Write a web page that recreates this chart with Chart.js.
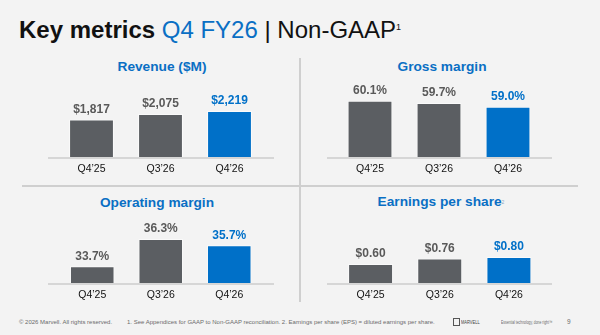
<!DOCTYPE html>
<html>
<head>
<meta charset="utf-8">
<script src="https://cdn.jsdelivr.net/npm/chart.js@4.4.0/dist/chart.umd.min.js"></script>
<style>
  body { margin: 0; background: #f3f3f3; font-family: "Liberation Sans", Arial, sans-serif; }
  #slide { position: relative; width: 600px; height: 335px; overflow: hidden; background: #f3f3f3; }
  .abs { position: absolute; white-space: nowrap; }
  canvas { position: absolute; }
  .ptitle { position: absolute; width: 240px; text-align: center; font-weight: bold; font-size: 13.7px; line-height: 16px; color: #0a6fc4; }
  .foot { position: absolute; font-size: 6px; line-height: 8px; color: #6b6b6b; white-space: nowrap; }
</style>
</head>
<body>
<div id="slide">
  <div class="abs" style="left:19px; top:18px; font-size:24px; line-height:24px; color:#111;">
    <b>Key metrics</b> <span style="color:#0a6fc4">Q4 FY26</span> | Non-GAAP<sup style="font-size:9px; vertical-align:top; position:relative; top:-3px;">1</sup>
  </div>

  <div style="position:absolute; left:299px; top:58px; width:2px; height:244px; background:#cfcfcf;"></div>
  <div style="position:absolute; left:22px; top:185px; width:556px; height:2px; background:#cfcfcf;"></div>

  <div class="ptitle" style="left:42px; top:59px;">Revenue ($M)</div>
  <div class="ptitle" style="left:322px; top:59px;">Gross margin</div>
  <div class="ptitle" style="left:37px; top:195px;">Operating margin</div>
  <div class="ptitle" style="left:321px; top:194px;">Earnings per share<sup style="font-size:5px; font-weight:normal; color:#8aa8c8; vertical-align:top;">2</sup></div>

  <canvas id="c1" width="226" height="88" style="left:48px; top:90px;"></canvas>
  <canvas id="c2" width="225" height="98" style="left:327px; top:80px;"></canvas>
  <canvas id="c3" width="226" height="89" style="left:48px; top:215px;"></canvas>
  <canvas id="c4" width="225" height="89" style="left:327px; top:215px;"></canvas>

  <div class="foot" style="left:19px; top:318px;">© 2026 Marvell. All rights reserved.</div>
  <div class="foot" style="left:127px; top:318px;">1. See Appendices for GAAP to Non-GAAP reconciliation. 2. Earnings per share (EPS) = diluted earnings per share.</div>
  <div style="position:absolute; left:453px; top:318px; width:5px; height:6px; border:1px solid #555;"></div>
  <div class="foot" style="left:461px; top:318px; font-size:5px; color:#444; transform:scaleX(0.8); transform-origin:left;">MARVELL</div>
  <div class="foot" style="left:501px; top:318px; font-size:5px; transform:scaleX(0.68); transform-origin:left;">Essential technology, done right™</div>
  <div class="foot" style="left:567px; top:318px; font-size:6.5px;">9</div>
</div>

<script>
const quarters = ['Q4\u201925', 'Q3\u201926', 'Q4\u201926'];
const revenue = [1817, 2075, 2219];
const grossMargin = [60.1, 59.7, 59.0];
const opMargin = [33.7, 36.3, 35.7];
const eps = [0.60, 0.76, 0.80];

const gray = '#5b5e62';
const blue = '#0070c8';

// draws the value above each bar and the light baseline under the bars
const barText = {
  id: 'barText',
  afterDatasetsDraw(chart, args, opts) {
    const ctx = chart.ctx;
    const bars = chart.getDatasetMeta(0).data;
    const vals = chart.data.datasets[0].data;
    ctx.save();
    ctx.font = 'bold 12px "Liberation Sans", Arial, sans-serif';
    ctx.textAlign = 'center';
    ctx.textBaseline = 'middle';
    bars.forEach((bar, i) => {
      ctx.fillStyle = i === bars.length - 1 ? blue : '#595959';
      ctx.fillText(opts.fmt(vals[i]), bar.x, bar.y - 10);
    });
    ctx.strokeStyle = '#d6d6d6';
    ctx.lineWidth = 2;
    ctx.beginPath();
    ctx.moveTo(0, chart.chartArea.bottom);
    ctx.lineTo(chart.width, chart.chartArea.bottom);
    ctx.stroke();
    ctx.restore();
  }
};

function makeChart(id, values, fmt, yMin, yMax, padL, padR) {
  new Chart(document.getElementById(id), {
    type: 'bar',
    data: {
      labels: quarters,
      datasets: [{
        data: values,
        backgroundColor: [gray, gray, blue],
        borderColor: 'rgba(255,255,255,0.6)',
        borderWidth: 1,
        barPercentage: 0.65,
        categoryPercentage: 1
      }]
    },
    options: {
      responsive: false,
      animation: false,
      layout: { padding: { left: padL, right: padR, top: 0, bottom: 0 } },
      plugins: {
        legend: { display: false },
        tooltip: { enabled: false },
        barText: { fmt: fmt }
      },
      scales: {
        x: {
          grid: { display: false, drawTicks: false },
          border: { display: false },
          ticks: { color: '#111', padding: 5, font: { family: '"Liberation Sans", Arial', size: 10.5 } },
          afterFit: s => { s.height = 20; }
        },
        y: { display: false, min: yMin, max: yMax }
      }
    },
    plugins: [barText]
  });
}

makeChart('c1', revenue, v => '$' + v.toLocaleString('en-US'), 0, 3210, 9, 10);
makeChart('c2', grossMargin, v => v.toFixed(1) + '%', 49.6, 63.9, 8.5, 9.5);
makeChart('c3', opMargin, v => v.toFixed(1) + '%', 32.0, 38.6, 10, 10.5);
makeChart('c4', eps, v => '$' + v.toFixed(2), 0.03, 2.0, 9, 8.5);
</script>
</body>
</html>
